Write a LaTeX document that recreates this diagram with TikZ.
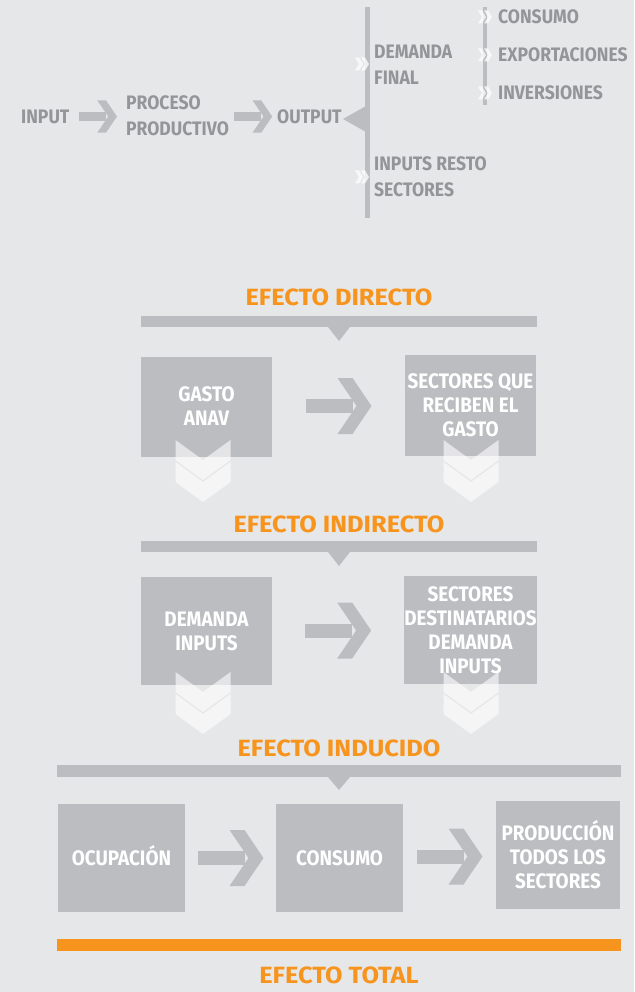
\documentclass[tikz,border=0pt]{standalone}
\usepackage{fontspec}
\setmainfont{Fira Sans}[FakeStretch=0.9]
\newfontfamily\fuentetitulo{Fira Sans}[FakeStretch=1.08]
\usetikzlibrary{calc}

\definecolor{fondo}{HTML}{E6E7E8}
\definecolor{gris}{HTML}{BCBDC1}
\definecolor{grisoscuro}{HTML}{939598}
\definecolor{naranja}{HTML}{F7941D}

\tikzset{
  caja/.style={fill=gris, text=white, inner sep=0pt, align=center,
    font=\fontsize{21}{24}\selectfont\bfseries},
  etiqueta/.style={text=grisoscuro, anchor=west, inner sep=0pt, align=left,
    font=\fontsize{19.5}{26}\selectfont\bfseries},
  titulo/.style={text=naranja, inner sep=0pt, text height=16.2pt, text depth=0pt,
    font=\fontsize{23.5}{26}\fuentetitulo\bfseries},
  unalinea/.style={text height=13.4pt, text depth=0pt},
  pics/flecha/.style={code={
    \fill[gris] (-33,-7) rectangle (14,7);
    \fill[gris] (-1,-28) -- (14,-28) -- (33,0) -- (14,28) -- (-1,28) -- (18,0) -- cycle;
  }},
  pics/bajada/.style={code={
    \fill[white, fill opacity=0.6] (-27.5,0) -- (0,20) -- (27.5,0) -- (27.5,20) -- (0,40) -- (-27.5,20) -- cycle;
    \fill[white, fill opacity=0.6] (-27.5,22) -- (0,42) -- (27.5,22) -- (27.5,42) -- (0,62) -- (-27.5,42) -- cycle;
  }},
  pics/pasito/.style={code={
    \fill[white, fill opacity=0.75] (0,-6.5) -- (4,-6.5) -- (8,0) -- (4,6.5) -- (0,6.5) -- (4,0) -- cycle;
    \fill[white, fill opacity=0.75] (6,-6.5) -- (10,-6.5) -- (14,0) -- (10,6.5) -- (6,6.5) -- (10,0) -- cycle;
  }},
}

\begin{document}
\begin{tikzpicture}[x=1pt, y=-1pt]
\fill[fondo] (0,0) rectangle (634,992);

% arriba
\node[etiqueta, unalinea] (input) at (21,117) {INPUT};
\node[etiqueta] (proceso) at (126,116) {PROCESO\\PRODUCTIVO};
\node[etiqueta, unalinea] (output) at (277,117) {OUTPUT};
\pic[scale=0.58] at ($(input.east)!0.5!(proceso.west)$) {flecha};
\pic[scale=0.58] at ($(proceso.east)!0.5!(output.west)$) {flecha};

\fill[gris] (365,7) rectangle (370,218);
\fill[gris] (343,119) -- (366,106) -- (366,132) -- cycle;
\node[etiqueta] (final) at (374,65) {DEMANDA\\FINAL};
\node[etiqueta] (resto) at (374,177) {INPUTS RESTO\\SECTORES};
\pic at (355,64) {pasito};
\pic at (355,177) {pasito};

\fill[gris] (483,7) rectangle (487,105);
\node[etiqueta, unalinea] (consumo) at (498,17) {CONSUMO};
\node[etiqueta, unalinea] (export) at (498,55) {EXPORTACIONES};
\node[etiqueta, unalinea] (inver) at (498,93) {INVERSIONES};
\foreach \y in {17,55,93}
  \pic at (478,\y) {pasito};

% efecto directo
\node[titulo] (directo) at (339,297) {EFECTO DIRECTO};
\fill[gris] (141,316) rectangle (537,327);
\fill[gris] (328,327) -- (350,327) -- (339,341) -- cycle;
\node[caja, minimum width=131, minimum height=100] (gasto) at (206.5,406.5) {GASTO\\ANAV};
\node[caja, minimum width=131, minimum height=101] (reciben) at (470.5,405.5) {SECTORES QUE\\RECIBEN EL\\GASTO};
\pic at ($(gasto.east)!0.5!(reciben.west)$) {flecha};
\pic at (203,440) {bajada};
\pic at (471,440) {bajada};

% efecto indirecto
\node[titulo] (indirecto) at (339,524) {EFECTO INDIRECTO};
\fill[gris] (141,541) rectangle (537,552);
\fill[gris] (328,552) -- (350,552) -- (339,566) -- cycle;
\node[caja, minimum width=131, minimum height=108] (dinputs) at (206.5,631) {DEMANDA\\INPUTS};
\node[caja, minimum width=131, minimum height=108] (destin) at (470.5,630) {SECTORES\\DESTINATARIOS\\DEMANDA\\INPUTS};
\pic at ($(dinputs.east)!0.5!(destin.west)$) {flecha};
\pic at (203,672) {bajada};
\pic at (471,672) {bajada};

% efecto inducido
\node[titulo] (inducido) at (339,748) {EFECTO INDUCIDO};
\fill[gris] (57,765) rectangle (621,777);
\fill[gris] (328,777) -- (350,777) -- (339,790) -- cycle;
\node[caja, text height=14.6pt, text depth=0pt, minimum width=127, minimum height=108] (ocupa) at (121.5,858) {OCUPACIÓN};
\node[caja, text height=14.6pt, text depth=0pt, minimum width=127, minimum height=108] (consumo2) at (339.5,858) {CONSUMO};
\node[caja, minimum width=124, minimum height=108] (produc) at (558,855) {PRODUCCIÓN\\TODOS LOS\\SECTORES};
\pic at ($(ocupa.east)!0.5!(consumo2.west)$) {flecha};
\pic at ($(consumo2.east)!0.5!(produc.west)$) {flecha};

% total
\fill[naranja] (57,939) rectangle (621,951);
\node[titulo] (total) at (339,975) {EFECTO TOTAL};
\end{tikzpicture}
\end{document}
